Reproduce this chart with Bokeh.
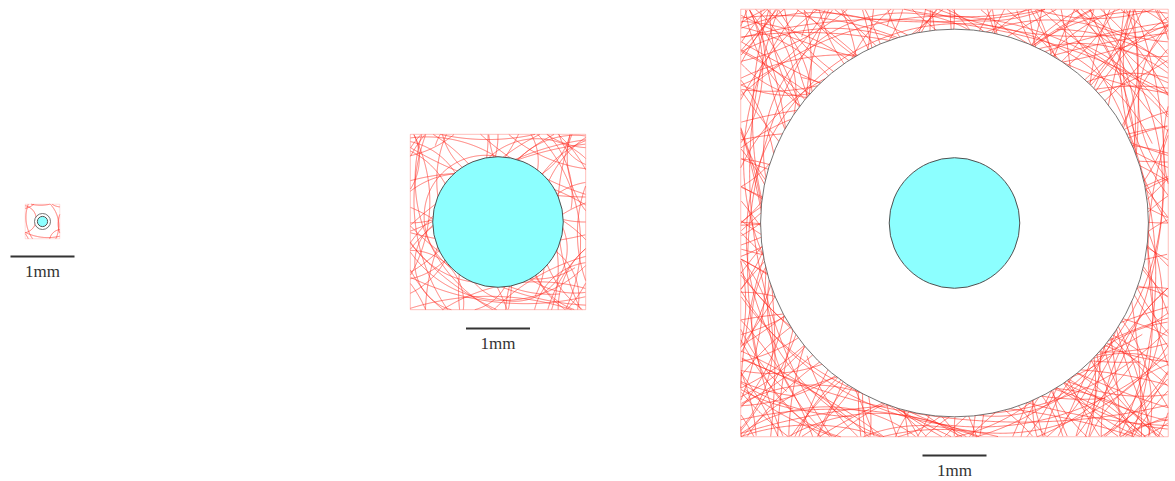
import numpy as np
from bokeh.plotting import figure
from bokeh.models import Range1d
from bokeh.core.properties import value
from bokeh.embed import file_html
from bokeh.resources import INLINE

# ---------------------------------------------------------------------------
# Fibre network: each fibre is a circular arc given in coordinates normalised
# to the half-width of the sample square (-1 .. 1).
#   FIBER_X, FIBER_Y : a point on the fibre
#   FIBER_ANGLE      : fibre direction at that point (degrees)
#   FIBER_RADIUS     : signed radius of curvature (normalised units)
# ---------------------------------------------------------------------------
FIBER_X = [
    -0.85, 0.75, 0.88, -0.90, 0.10, -0.95, 0.93, 0.05, -0.60, 0.65,
    0.62, -0.70, -0.30, 0.40, 0.85, -0.88, 0.20, -0.45, 0.78, -0.80,
    0.55, -0.55, 0.97, -0.97, 0.30, -0.25, 0.70, -0.65, 0.90, -0.92,
    0.45, -0.40, 0.82, -0.78, 0.15, -0.12, 0.95, -0.96, 0.60, -0.62,
    0.35, -0.35, 0.80, -0.82, 0.00, 0.99, -0.99, 0.10, 0.72, -0.75,
    0.50, -0.52, 0.88, -0.88, 0.92, -0.90, 0.25, -0.22, 0.68, -0.70,
    0.05, -0.08, 0.86, -0.84, 0.58, -0.60, 0.95, -0.93, 0.40, -0.42,
    0.80, -0.78, 0.65, -0.66, 0.92, -0.94, 0.30, -0.28, 0.75, -0.74,
    0.55, -0.57, 0.98, -0.97, 0.15, -0.18, 0.85, -0.86, 0.45, -0.47,
    0.70, -0.72, 0.97, -0.98, 0.35, -0.33, 0.82, -0.80, 0.60, -0.62,
    0.90, -0.91, 0.20, -0.18, 0.78, -0.77, 0.96, -0.95, 0.50, -0.50,
    0.88, -0.89, 0.05, -0.03, 0.66, -0.67, 0.93, -0.92, 0.38, -0.40,
    0.85, -0.80, -0.90, 0.82, 0.70, -0.95, -0.72, 0.95, 0.92, -0.86,
    -0.94, 0.88, 0.60, -0.78, -0.60, 0.80, 0.98, -0.30, -0.98, 0.30,
    0.75, -0.75, -0.78, 0.77, 0.99, -0.92, -0.99, 0.94, 0.50, -0.97,
    -0.50, 0.96, 0.88, -0.66, -0.87, 0.65, 0.72, -0.84, -0.73, 0.85,
    0.97, -0.05, -0.97, 0.03, 0.90, -0.90, -0.90, 0.90, 0.64, -0.96,
    -0.63, 0.97, 0.80, -0.70, -0.80, 0.70, 0.93, -0.50, -0.93, 0.50,
    0.84, -0.95, -0.84, 0.95, 0.40, -0.99, -0.40, 0.99, 0.68, -0.68,
    -0.68, 0.68, 0.96, -0.96, -0.96, 0.96, 0.15, -0.96, -0.15, 0.96,
]
FIBER_Y = [
    0.80, 0.90, -0.70, -0.85, 0.95, 0.05, 0.15, -0.92, 0.70, -0.62,
    0.68, -0.58, 0.88, -0.85, 0.40, -0.35, 0.70, -0.75, -0.20, 0.30,
    0.95, -0.95, 0.65, -0.60, -0.60, 0.55, 0.30, -0.20, -0.95, 0.95,
    0.80, -0.82, -0.45, 0.52, -0.78, 0.82, -0.35, 0.38, -0.90, 0.92,
    0.60, -0.55, 0.80, -0.82, 0.99, 0.00, -0.10, -0.99, 0.55, -0.48,
    -0.72, 0.75, 0.92, -0.95, -0.80, 0.78, 0.90, -0.90, 0.05, -0.02,
    0.75, -0.72, 0.58, -0.62, 0.84, -0.86, 0.85, -0.88, -0.95, 0.96,
    -0.60, 0.62, 0.40, -0.40, 0.25, -0.22, 0.97, -0.97, -0.85, 0.86,
    0.55, -0.53, -0.55, 0.58, 0.85, -0.84, 0.10, -0.08, -0.50, 0.52,
    0.97, -0.97, 0.45, -0.45, -0.75, 0.77, 0.70, -0.72, -0.40, 0.42,
    -0.10, 0.12, -0.88, 0.90, 0.88, -0.90, -0.92, 0.93, 0.72, -0.70,
    -0.30, 0.28, 0.93, -0.94, -0.75, 0.74, 0.72, -0.73, 0.45, -0.43,
    0.85, 0.88, -0.80, -0.88, 0.93, 0.70, -0.95, -0.72, 0.78, 0.92,
    -0.90, -0.95, 0.80, 0.60, -0.80, -0.60, 0.30, 0.98, -0.30, -0.98,
    0.75, 0.78, -0.75, -0.78, 0.92, 0.99, -0.95, -0.99, 0.97, 0.48,
    -0.96, -0.52, 0.65, 0.86, -0.66, -0.87, 0.86, 0.73, -0.84, -0.74,
    0.05, 0.97, 0.02, -0.97, 0.90, 0.90, -0.90, -0.90, 0.96, 0.63,
    -0.97, -0.64, 0.70, 0.80, -0.70, -0.80, 0.50, 0.93, -0.50, -0.93,
    0.95, 0.84, -0.95, -0.84, 0.99, 0.40, -0.99, -0.40, 0.68, 0.68,
    -0.68, -0.68, 0.96, 0.96, -0.96, -0.96, 0.96, 0.15, -0.96, -0.15,
]
FIBER_ANGLE = [
    20, 160, 75, 300, 5, 95, 260, 175, 135, 40,
    225, 50, 340, 15, 110, 70, 200, 145, 280, 250,
    30, 210, 120, 300, 320, 60, 355, 170, 140, 230,
    100, 280, 200, 10, 85, 265, 45, 215, 250, 70,
    150, 330, 310, 130, 90, 180, 20, 290, 80, 255,
    125, 305, 190, 15, 95, 275, 325, 145, 35, 215,
    165, 345, 270, 90, 0, 180, 235, 55, 105, 285,
    5, 185, 140, 320, 60, 240, 110, 290, 160, 340,
    45, 225, 125, 305, 230, 50, 330, 150, 75, 255,
    205, 25, 10, 190, 350, 170, 155, 335, 215, 35,
    100, 280, 40, 220, 85, 265, 200, 20, 295, 115,
    165, 345, 130, 310, 270, 90, 30, 210, 260, 80,
    100, 15, 200, 330, 250, 320, 60, 140, 175, 275,
    100, 20, 45, 135, 225, 315, 95, 185, 275, 5,
    300, 30, 120, 210, 230, 320, 50, 140, 170, 260,
    350, 80, 60, 155, 245, 335, 125, 215, 305, 35,
    85, 175, 265, 355, 10, 95, 190, 280, 70, 160,
    250, 340, 150, 240, 330, 60, 200, 290, 20, 110,
    320, 50, 140, 230, 20, 110, 200, 290, 15, 105,
    195, 285, 120, 210, 300, 30, 60, 150, 240, 330,
]
FIBER_RADIUS = [
    1.2, -0.9, 1.8, -1.4, 2.5, -2.2, 1.6, -3.0, 0.8, -0.7,
    1.1, 0.9, -1.5, 1.3, -1.0, 1.7, 3.5, -2.8, -0.6, 0.7,
    -2.0, 2.0, 1.4, 1.4, 0.9, -0.8, 4.0, -4.0, -1.2, 1.0,
    0.6, -0.6, 2.4, -2.6, 1.9, -1.8, -0.9, 0.95, 1.5, -1.3,
    -3.2, 3.0, 0.5, -0.55, 1.0, -1.1, 2.2, -2.0, -2.5, 2.3,
    -0.75, 0.75, 3.0, -3.0, 0.65, -0.65, 1.7, -1.7, -1.4, 1.3,
    0.9, -0.9, -3.5, 3.6, -0.7, 0.7, -1.6, 1.6, 2.8, -2.7,
    1.0, -1.0, 2.1, -2.1, 0.8, -0.8, -1.2, 1.2, -2.4, 2.4,
    1.9, -1.9, -3.8, 3.8, 0.6, -0.6, 1.5, -1.5, 3.3, -3.3,
    0.85, -0.85, -2.2, 2.2, -1.1, 1.1, 2.7, -2.7, 0.55, -0.55,
    1.8, -1.8, -2.3, 2.3, -1.4, 1.4, 0.9, -0.9, -4.0, 4.0,
    0.7, -0.7, 3.1, -3.1, -1.0, 1.0, 1.3, -1.3, 2.0, -2.0,
    0.6, -0.9, 0.7, -0.8, 1.2, 0.5, -1.1, 1.3, -0.45, 0.8,
    1.0, -0.6, 0.9, -0.7, 1.4, -1.2, -0.75, 0.65, -0.85, 0.95,
    1.5, -1.4, 1.6, -1.3, 0.55, -0.5, 0.6, -0.7, -0.9, 1.1,
    -1.0, 0.85, -1.0, 0.9, -0.95, 1.05, 0.7, -0.75, 0.8, -0.65,
    1.2, -1.3, 1.0, -1.1, 1.8, -1.7, 1.9, -1.6, 0.5, -0.55,
    0.6, -0.5, -2.0, 2.0, -2.1, 2.1, 0.9, -0.85, 0.95, -0.9,
    -1.2, 1.2, -1.25, 1.15, 0.75, -0.8, 0.7, -0.75, -0.6, 0.65,
    -0.7, 0.6, -1.0, 1.0, -1.0, 1.0, -1.6, 1.5, -1.5, 1.6,
]

# Three samples, all in millimetres
SQUARE_HALF_MM = [0.27, 1.37, 3.34]      # half side of the fibre square
CYLINDER_R_MM = [0.08, 1.02, 1.02]       # radius of the inclusion
EXCLUSION_R_MM = [0.125, 1.02, 3.03]     # fibre-free zone around it
FIBER_COUNT = [10, 60, 200]              # fibres drawn in each sample
SCALE_BAR_MM = 1.0
SCALE_LABEL = "1mm"

# ---------------------------------------------------------------------------
# Page layout (millimetres on the page, 64 px per mm)
# ---------------------------------------------------------------------------
W, H = 1175, 481
PX = 64.0
CENTER_X = [42.0 / PX, 497.5 / PX, 954.0 / PX]
CENTER_Y = [(H - 221.0) / PX, (H - 221.5) / PX, (H - 222.5) / PX]
BAR_Y = [(H - 256.0) / PX, (H - 328.0) / PX, (H - 455.0) / PX]
LABEL_Y = [(H - 271.0) / PX, (H - 343.0) / PX, (H - 470.0) / PX]
OUTLINE_ALPHA = [0.15, 0.3, 0.3]

FIBER_COLOR = "#ff2a1f"
CYAN = "#8cffff"
EDGE = "#505050"
TEXT = "#333333"

p = figure(width=W, height=H, output_backend="svg", toolbar_location=None,
           x_range=Range1d(0, W / PX), y_range=Range1d(0, H / PX),
           min_border=0)
p.axis.visible = False
p.grid.visible = False
p.outline_line_color = None
p.background_fill_color = "white"
p.border_fill_color = "white"


def fibre_segments(cx, cy, half, n):
    """Arcs of the first n fibres, clipped to the square around (cx, cy)."""
    xs, ys = [], []
    for fx, fy, ang, rad in zip(FIBER_X[:n], FIBER_Y[:n],
                                FIBER_ANGLE[:n], FIBER_RADIUS[:n]):
        th = np.radians(ang)
        span = min(2.6, 0.85 * np.pi * abs(rad))
        s = np.linspace(-span, span, 900)
        ccx = fx - rad * np.sin(th)
        ccy = fy + rad * np.cos(th)
        phi = th + s / rad
        px = ccx + rad * np.sin(phi)
        py = ccy - rad * np.cos(phi)
        inside = (np.abs(px) <= 1.0) & (np.abs(py) <= 1.0)
        idx = np.flatnonzero(inside)
        if idx.size == 0:
            continue
        breaks = np.flatnonzero(np.diff(idx) > 1)
        starts = np.concatenate([[0], breaks + 1])
        ends = np.concatenate([breaks, [idx.size - 1]])
        for a, b in zip(starts, ends):
            seg = idx[a:b + 1]
            if seg.size < 2:
                continue
            xs.append(list(cx + half * px[seg]))
            ys.append(list(cy + half * py[seg]))
    return xs, ys


for i in range(3):
    cx, cy, half = CENTER_X[i], CENTER_Y[i], SQUARE_HALF_MM[i]

    # faint square boundary of the fibre domain
    p.line([cx - half, cx + half, cx + half, cx - half, cx - half],
           [cy - half, cy - half, cy + half, cy + half, cy - half],
           line_color=FIBER_COLOR, line_alpha=OUTLINE_ALPHA[i], line_width=1)

    xs, ys = fibre_segments(cx, cy, half, FIBER_COUNT[i])
    p.multi_line(xs, ys, line_color=FIBER_COLOR, line_alpha=0.6,
                 line_width=1.0)

    # fibre-free zone
    if EXCLUSION_R_MM[i] > CYLINDER_R_MM[i]:
        p.circle([cx], [cy], radius=EXCLUSION_R_MM[i], fill_color="white",
                 line_color=EDGE, line_width=0.8)

    # inclusion
    p.circle([cx], [cy], radius=CYLINDER_R_MM[i], fill_color=CYAN,
             line_color=EDGE, line_width=1)

    # scale bar
    p.line([cx - SCALE_BAR_MM / 2, cx + SCALE_BAR_MM / 2],
           [BAR_Y[i], BAR_Y[i]], line_color=TEXT, line_width=2)
    p.text([cx], [LABEL_Y[i]], text=[SCALE_LABEL],
           text_font=value("Liberation Serif"), text_font_size="17px",
           text_color=TEXT, text_align="center", text_baseline="middle")

open("out.html", "w").write(file_html(p, INLINE))
